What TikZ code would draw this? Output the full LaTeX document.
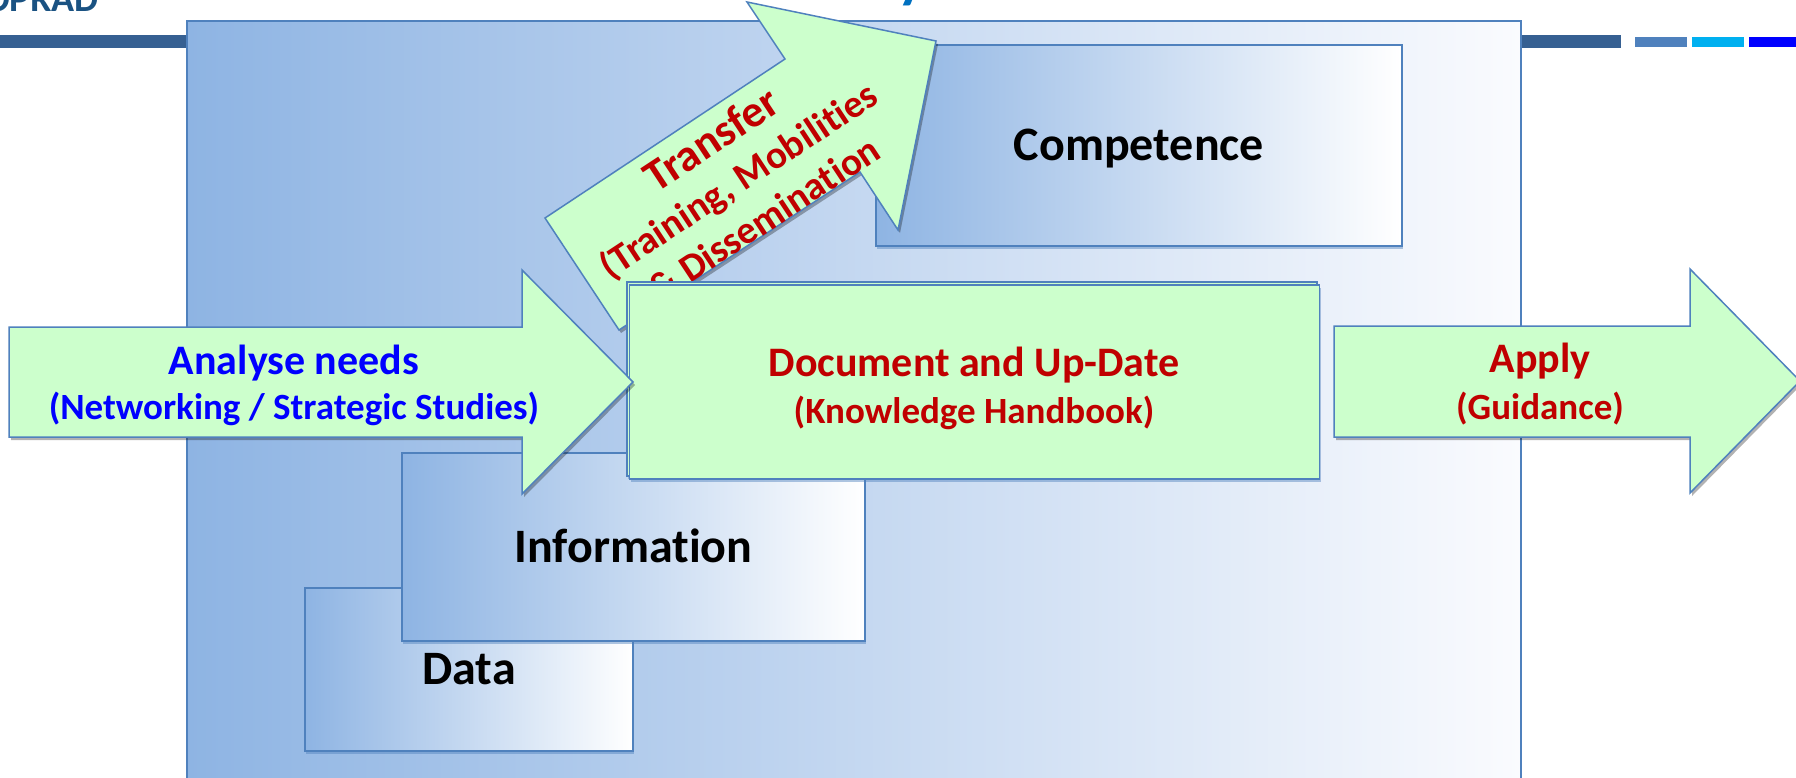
\documentclass[tikz,border=0pt]{standalone}
\usepackage{fontspec}
\setmainfont{Carlito}[Ligatures=NoCommon]
\usetikzlibrary{shadows}

\definecolor{frameblue}{RGB}{79,129,189}
\definecolor{boxblue}{RGB}{142,180,227}
\definecolor{paleblue}{RGB}{250,251,254}
\definecolor{flowgreen}{RGB}{204,255,204}
\definecolor{darkred}{RGB}{192,0,0}
\definecolor{barblue}{RGB}{54,96,146}
\definecolor{midbar}{RGB}{79,129,189}
\definecolor{cyanbar}{RGB}{0,176,240}
\definecolor{titleblue}{RGB}{0,112,192}
\definecolor{logoblue}{RGB}{26,82,130}

\begin{document}
\begin{tikzpicture}
	[x=1pt,y=-1pt,
	frame/.style={draw=frameblue,line width=1.5pt,left color=boxblue,right color=paleblue},
	stage/.style={rectangle,draw=frameblue,line width=1.5pt,left color=boxblue,right color=white,inner sep=0pt,text height=30pt,text depth=0pt,font=\fontsize{48}{56}\selectfont\bfseries,drop shadow={shadow xshift=1pt,shadow yshift=-3pt,opacity=.45,fill=frameblue}},
	notebox/.style={rectangle,draw=frameblue,line width=1.5pt,fill=flowgreen,inner sep=0pt,drop shadow={shadow xshift=1pt,shadow yshift=-3pt,opacity=.45,fill=frameblue}},
	flow/.style={draw=frameblue,line width=1.5pt,fill=flowgreen,line join=miter,drop shadow={shadow xshift=2pt,shadow yshift=-3pt,opacity=.3,fill=black}},
	bluehead/.style={anchor=base,text=blue,font=\fontsize{42}{50}\selectfont\bfseries},
	bluesub/.style={anchor=base,text=blue,font=\fontsize{37}{46}\selectfont\bfseries},
	redhead/.style={anchor=base,text=darkred,font=\fontsize{42}{50}\selectfont\bfseries},
	redsub/.style={anchor=base,text=darkred,font=\fontsize{37}{46}\selectfont\bfseries}]
	\useasboundingbox (0,0) rectangle (1796,778);
	% header strip
	\fill [barblue] (0,35) rectangle (1621,48);
	\fill [midbar] (1635,37) rectangle (1687,47);
	\fill [cyanbar] (1692,37) rectangle (1744,47);
	\fill [blue] (1749,37) rectangle (1796,47);
	\node (logo) at (102,12) [anchor=base east,text=logoblue,font=\fontsize{38}{44}\selectfont\bfseries] {OPRAD};
	\node (titletail) at (912,-3) [anchor=base,text=titleblue,font=\fontsize{60}{70}\selectfont\bfseries] {y};
	% background frame
	\draw [frame] (187,21) rectangle (1521,800);
	% stages
	\node (data) at (469,669.5) [stage,minimum width=328pt,minimum height=163pt] {Data};
	\node (info) at (633.5,547) [stage,minimum width=463pt,minimum height=188pt] {Information};
	\node (competence) at (1139,145.5) [stage,minimum width=526pt,minimum height=201pt] {Competence};
	% transfer arrow
	\draw [flow] (545,218) -- (785,59) -- (747,2) -- (936,41) -- (898,230) -- (860,172) -- (619,330) -- cycle;
	\node (transfer) at (737,178) [anchor=center,rotate=33.4,align=center,text=darkred,font=\fontsize{39}{47}\selectfont\bfseries] {{\fontsize{45}{47}\selectfont Transfer}\\(Training, Mobilities\\\& Dissemination};
	% document box
	\node (docback) at (972,379) [notebox,minimum width=690pt,minimum height=194pt] {};
	\node (doc) at (974.5,382) [notebox,minimum width=690pt,minimum height=194pt] {};
	\node (document) at (974,376) [redhead] {Document and Up-Date};
	\node (documentsub) at (974,423) [redsub] {(Knowledge Handbook)};
	% analyse arrow
	\draw [flow] (9,327) -- (522,327) -- (522,270) -- (633,382) -- (522,494) -- (522,437) -- (9,437) -- cycle;
	\node (analyse) at (294,374) [bluehead] {Analyse needs};
	\node (analysesub) at (294,419) [bluesub] {(Networking / Strategic Studies)};
	% apply arrow
	\draw [flow] (1334,326) -- (1690,326) -- (1690,269) -- (1800,381) -- (1690,493) -- (1690,437) -- (1334,437) -- cycle;
	\node (apply) at (1540,372) [redhead] {Apply};
	\node (applysub) at (1540,419) [redsub] {(Guidance)};
\end{tikzpicture}
\end{document}
